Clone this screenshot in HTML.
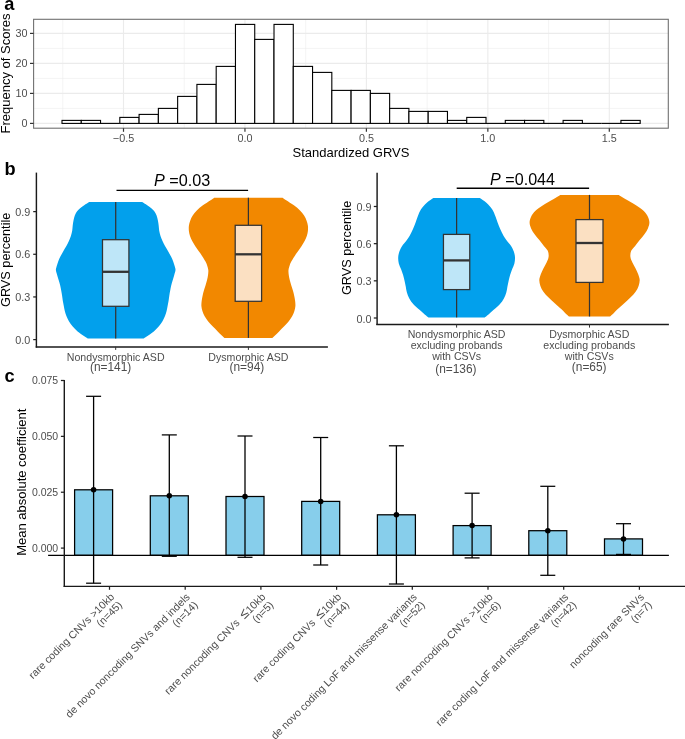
<!DOCTYPE html>
<html><head><meta charset="utf-8"><style>
html,body{margin:0;padding:0;background:#fff;}
svg{display:block;font-family:"Liberation Sans", sans-serif;will-change:transform;}
</style></head><body>
<svg width="685" height="739" viewBox="0 0 685 739">
<rect x="0" y="0" width="685" height="739" fill="#fff"/>
<line x1="62.77499999999998" y1="19.3" x2="62.77499999999998" y2="128.2" stroke="#ebebeb" stroke-width="0.55"/>
<line x1="184.225" y1="19.3" x2="184.225" y2="128.2" stroke="#ebebeb" stroke-width="0.55"/>
<line x1="305.675" y1="19.3" x2="305.675" y2="128.2" stroke="#ebebeb" stroke-width="0.55"/>
<line x1="427.125" y1="19.3" x2="427.125" y2="128.2" stroke="#ebebeb" stroke-width="0.55"/>
<line x1="548.575" y1="19.3" x2="548.575" y2="128.2" stroke="#ebebeb" stroke-width="0.55"/>
<line x1="33.6" y1="108.4" x2="668.3" y2="108.4" stroke="#ebebeb" stroke-width="0.55"/>
<line x1="33.6" y1="78.4" x2="668.3" y2="78.4" stroke="#ebebeb" stroke-width="0.55"/>
<line x1="33.6" y1="48.400000000000006" x2="668.3" y2="48.400000000000006" stroke="#ebebeb" stroke-width="0.55"/>
<line x1="123.49999999999999" y1="19.3" x2="123.49999999999999" y2="128.2" stroke="#ebebeb" stroke-width="1.1"/>
<line x1="244.95" y1="19.3" x2="244.95" y2="128.2" stroke="#ebebeb" stroke-width="1.1"/>
<line x1="366.4" y1="19.3" x2="366.4" y2="128.2" stroke="#ebebeb" stroke-width="1.1"/>
<line x1="487.85" y1="19.3" x2="487.85" y2="128.2" stroke="#ebebeb" stroke-width="1.1"/>
<line x1="609.3" y1="19.3" x2="609.3" y2="128.2" stroke="#ebebeb" stroke-width="1.1"/>
<line x1="33.6" y1="123.4" x2="668.3" y2="123.4" stroke="#ebebeb" stroke-width="1.1"/>
<line x1="33.6" y1="93.4" x2="668.3" y2="93.4" stroke="#ebebeb" stroke-width="1.1"/>
<line x1="33.6" y1="63.400000000000006" x2="668.3" y2="63.400000000000006" stroke="#ebebeb" stroke-width="1.1"/>
<line x1="33.6" y1="33.400000000000006" x2="668.3" y2="33.400000000000006" stroke="#ebebeb" stroke-width="1.1"/>
<rect x="62.00" y="120.40" width="19.27" height="3.00" fill="#fff" stroke="#000" stroke-width="1.1"/>
<rect x="81.27" y="120.40" width="19.27" height="3.00" fill="#fff" stroke="#000" stroke-width="1.1"/>
<line x1="100.55" y1="123.4" x2="119.82" y2="123.4" stroke="#000" stroke-width="1.1"/>
<rect x="119.82" y="117.40" width="19.27" height="6.00" fill="#fff" stroke="#000" stroke-width="1.1"/>
<rect x="139.09" y="114.40" width="19.27" height="9.00" fill="#fff" stroke="#000" stroke-width="1.1"/>
<rect x="158.37" y="108.40" width="19.27" height="15.00" fill="#fff" stroke="#000" stroke-width="1.1"/>
<rect x="177.64" y="96.40" width="19.27" height="27.00" fill="#fff" stroke="#000" stroke-width="1.1"/>
<rect x="196.91" y="84.40" width="19.27" height="39.00" fill="#fff" stroke="#000" stroke-width="1.1"/>
<rect x="216.19" y="66.40" width="19.27" height="57.00" fill="#fff" stroke="#000" stroke-width="1.1"/>
<rect x="235.46" y="24.40" width="19.27" height="99.00" fill="#fff" stroke="#000" stroke-width="1.1"/>
<rect x="254.73" y="39.40" width="19.27" height="84.00" fill="#fff" stroke="#000" stroke-width="1.1"/>
<rect x="274.01" y="24.40" width="19.27" height="99.00" fill="#fff" stroke="#000" stroke-width="1.1"/>
<rect x="293.28" y="66.40" width="19.27" height="57.00" fill="#fff" stroke="#000" stroke-width="1.1"/>
<rect x="312.55" y="72.40" width="19.27" height="51.00" fill="#fff" stroke="#000" stroke-width="1.1"/>
<rect x="331.83" y="90.40" width="19.27" height="33.00" fill="#fff" stroke="#000" stroke-width="1.1"/>
<rect x="351.10" y="90.40" width="19.27" height="33.00" fill="#fff" stroke="#000" stroke-width="1.1"/>
<rect x="370.37" y="93.40" width="19.27" height="30.00" fill="#fff" stroke="#000" stroke-width="1.1"/>
<rect x="389.65" y="108.40" width="19.27" height="15.00" fill="#fff" stroke="#000" stroke-width="1.1"/>
<rect x="408.92" y="111.40" width="19.27" height="12.00" fill="#fff" stroke="#000" stroke-width="1.1"/>
<rect x="428.19" y="111.40" width="19.27" height="12.00" fill="#fff" stroke="#000" stroke-width="1.1"/>
<rect x="447.47" y="120.40" width="19.27" height="3.00" fill="#fff" stroke="#000" stroke-width="1.1"/>
<rect x="466.74" y="117.40" width="19.27" height="6.00" fill="#fff" stroke="#000" stroke-width="1.1"/>
<line x1="486.01" y1="123.4" x2="505.29" y2="123.4" stroke="#000" stroke-width="1.1"/>
<rect x="505.29" y="120.40" width="19.27" height="3.00" fill="#fff" stroke="#000" stroke-width="1.1"/>
<rect x="524.56" y="120.40" width="19.27" height="3.00" fill="#fff" stroke="#000" stroke-width="1.1"/>
<line x1="543.83" y1="123.4" x2="563.11" y2="123.4" stroke="#000" stroke-width="1.1"/>
<rect x="563.11" y="120.40" width="19.27" height="3.00" fill="#fff" stroke="#000" stroke-width="1.1"/>
<line x1="582.38" y1="123.4" x2="601.65" y2="123.4" stroke="#000" stroke-width="1.1"/>
<line x1="601.65" y1="123.4" x2="620.93" y2="123.4" stroke="#000" stroke-width="1.1"/>
<rect x="620.93" y="120.40" width="19.27" height="3.00" fill="#fff" stroke="#000" stroke-width="1.1"/>
<rect x="33.6" y="19.3" width="634.6999999999999" height="108.89999999999999" fill="none" stroke="#707070" stroke-width="1.1"/>
<line x1="30.0" y1="123.4" x2="33.6" y2="123.4" stroke="#333" stroke-width="1.2"/>
<text x="27.6" y="127.30000000000001" font-size="10.8" fill="#4d4d4d" text-anchor="end">0</text>
<line x1="30.0" y1="93.4" x2="33.6" y2="93.4" stroke="#333" stroke-width="1.2"/>
<text x="27.6" y="97.30000000000001" font-size="10.8" fill="#4d4d4d" text-anchor="end">10</text>
<line x1="30.0" y1="63.400000000000006" x2="33.6" y2="63.400000000000006" stroke="#333" stroke-width="1.2"/>
<text x="27.6" y="67.30000000000001" font-size="10.8" fill="#4d4d4d" text-anchor="end">20</text>
<line x1="30.0" y1="33.400000000000006" x2="33.6" y2="33.400000000000006" stroke="#333" stroke-width="1.2"/>
<text x="27.6" y="37.300000000000004" font-size="10.8" fill="#4d4d4d" text-anchor="end">30</text>
<line x1="123.49999999999999" y1="128.2" x2="123.49999999999999" y2="131.79999999999998" stroke="#333" stroke-width="1.2"/>
<text x="123.49999999999999" y="142.0" font-size="10.8" fill="#4d4d4d" text-anchor="middle">−0.5</text>
<line x1="244.95" y1="128.2" x2="244.95" y2="131.79999999999998" stroke="#333" stroke-width="1.2"/>
<text x="244.95" y="142.0" font-size="10.8" fill="#4d4d4d" text-anchor="middle">0.0</text>
<line x1="366.4" y1="128.2" x2="366.4" y2="131.79999999999998" stroke="#333" stroke-width="1.2"/>
<text x="366.4" y="142.0" font-size="10.8" fill="#4d4d4d" text-anchor="middle">0.5</text>
<line x1="487.85" y1="128.2" x2="487.85" y2="131.79999999999998" stroke="#333" stroke-width="1.2"/>
<text x="487.85" y="142.0" font-size="10.8" fill="#4d4d4d" text-anchor="middle">1.0</text>
<line x1="609.3" y1="128.2" x2="609.3" y2="131.79999999999998" stroke="#333" stroke-width="1.2"/>
<text x="609.3" y="142.0" font-size="10.8" fill="#4d4d4d" text-anchor="middle">1.5</text>
<text x="351" y="156.7" font-size="13" fill="#000" text-anchor="middle">Standardized GRVS</text>
<text x="9.5" y="73.5" font-size="13" fill="#000" text-anchor="middle" transform="rotate(-90 9.5 73.5)">Frequency of Scores</text>
<text x="4.3" y="9.5" font-size="18.2" fill="#000" text-anchor="start" font-weight="bold">a</text>
<path d="M89.30,202.00 C88.45,202.53 85.73,204.15 84.20,205.20 C82.67,206.25 81.28,207.28 80.10,208.30 C78.92,209.32 77.98,210.12 77.10,211.30 C76.22,212.48 75.40,213.87 74.80,215.40 C74.20,216.93 73.85,218.78 73.50,220.50 C73.15,222.22 72.92,223.98 72.70,225.70 C72.48,227.42 72.50,229.10 72.20,230.80 C71.90,232.50 71.45,234.20 70.90,235.90 C70.35,237.60 69.65,239.30 68.90,241.00 C68.15,242.70 67.33,244.40 66.40,246.10 C65.47,247.80 64.28,249.50 63.30,251.20 C62.32,252.90 61.35,254.60 60.50,256.30 C59.65,258.00 58.85,259.70 58.20,261.40 C57.55,263.10 56.98,265.05 56.60,266.50 C56.22,267.95 55.80,268.65 55.90,270.10 C56.00,271.55 56.73,273.50 57.20,275.20 C57.67,276.90 58.20,278.60 58.70,280.30 C59.20,282.00 59.78,283.70 60.20,285.40 C60.62,287.10 60.88,288.78 61.20,290.50 C61.52,292.22 61.83,293.98 62.10,295.70 C62.37,297.42 62.52,299.10 62.80,300.80 C63.08,302.50 63.47,304.20 63.80,305.90 C64.13,307.60 64.37,309.30 64.80,311.00 C65.23,312.70 65.72,314.40 66.40,316.10 C67.08,317.80 67.88,319.50 68.90,321.20 C69.92,322.90 71.05,324.60 72.50,326.30 C73.95,328.00 75.57,329.70 77.60,331.40 C79.63,333.10 83.00,335.30 84.70,336.50 C86.40,337.70 87.28,338.25 87.80,338.60 L143.60,338.60 C144.12,338.25 145.00,337.70 146.70,336.50 C148.40,335.30 151.77,333.10 153.80,331.40 C155.83,329.70 157.45,328.00 158.90,326.30 C160.35,324.60 161.48,322.90 162.50,321.20 C163.52,319.50 164.32,317.80 165.00,316.10 C165.68,314.40 166.17,312.70 166.60,311.00 C167.03,309.30 167.27,307.60 167.60,305.90 C167.93,304.20 168.32,302.50 168.60,300.80 C168.88,299.10 169.03,297.42 169.30,295.70 C169.57,293.98 169.88,292.22 170.20,290.50 C170.52,288.78 170.78,287.10 171.20,285.40 C171.62,283.70 172.20,282.00 172.70,280.30 C173.20,278.60 173.73,276.90 174.20,275.20 C174.67,273.50 175.40,271.55 175.50,270.10 C175.60,268.65 175.18,267.95 174.80,266.50 C174.42,265.05 173.85,263.10 173.20,261.40 C172.55,259.70 171.75,258.00 170.90,256.30 C170.05,254.60 169.08,252.90 168.10,251.20 C167.12,249.50 165.93,247.80 165.00,246.10 C164.07,244.40 163.25,242.70 162.50,241.00 C161.75,239.30 161.05,237.60 160.50,235.90 C159.95,234.20 159.50,232.50 159.20,230.80 C158.90,229.10 158.92,227.42 158.70,225.70 C158.48,223.98 158.25,222.22 157.90,220.50 C157.55,218.78 157.20,216.93 156.60,215.40 C156.00,213.87 155.18,212.48 154.30,211.30 C153.42,210.12 152.48,209.32 151.30,208.30 C150.12,207.28 148.73,206.25 147.20,205.20 C145.67,204.15 142.95,202.53 142.10,202.00 Z" fill="#02a0ec"/>
<path d="M214.20,197.70 C213.60,198.12 212.48,198.93 210.60,200.20 C208.72,201.47 205.20,203.60 202.90,205.30 C200.60,207.00 198.50,208.70 196.80,210.40 C195.10,212.10 193.80,213.78 192.70,215.50 C191.60,217.22 190.83,218.98 190.20,220.70 C189.57,222.42 189.12,224.10 188.90,225.80 C188.68,227.50 188.72,229.20 188.90,230.90 C189.08,232.60 189.45,234.30 190.00,236.00 C190.55,237.70 191.32,239.40 192.20,241.10 C193.08,242.80 194.20,244.50 195.30,246.20 C196.40,247.90 197.62,249.60 198.80,251.30 C199.98,253.00 201.28,254.70 202.40,256.40 C203.52,258.10 204.73,260.07 205.50,261.50 C206.27,262.93 206.53,263.57 207.00,265.00 C207.47,266.43 208.13,268.40 208.30,270.10 C208.47,271.80 208.22,273.50 208.00,275.20 C207.78,276.90 207.42,278.60 207.00,280.30 C206.58,282.00 206.02,283.70 205.50,285.40 C204.98,287.10 204.38,288.78 203.90,290.50 C203.42,292.22 202.97,293.98 202.60,295.70 C202.23,297.42 201.90,299.10 201.70,300.80 C201.50,302.50 201.28,304.20 201.40,305.90 C201.52,307.60 201.88,309.30 202.40,311.00 C202.92,312.70 203.57,314.40 204.50,316.10 C205.43,317.80 206.65,319.50 208.00,321.20 C209.35,322.90 210.98,324.60 212.60,326.30 C214.22,328.00 216.17,329.87 217.70,331.40 C219.23,332.93 220.68,334.42 221.80,335.50 C222.92,336.58 223.97,337.50 224.40,337.90 L272.40,337.90 C272.83,337.50 273.88,336.58 275.00,335.50 C276.12,334.42 277.57,332.93 279.10,331.40 C280.63,329.87 282.58,328.00 284.20,326.30 C285.82,324.60 287.45,322.90 288.80,321.20 C290.15,319.50 291.37,317.80 292.30,316.10 C293.23,314.40 293.88,312.70 294.40,311.00 C294.92,309.30 295.28,307.60 295.40,305.90 C295.52,304.20 295.30,302.50 295.10,300.80 C294.90,299.10 294.57,297.42 294.20,295.70 C293.83,293.98 293.38,292.22 292.90,290.50 C292.42,288.78 291.82,287.10 291.30,285.40 C290.78,283.70 290.22,282.00 289.80,280.30 C289.38,278.60 289.02,276.90 288.80,275.20 C288.58,273.50 288.33,271.80 288.50,270.10 C288.67,268.40 289.33,266.43 289.80,265.00 C290.27,263.57 290.53,262.93 291.30,261.50 C292.07,260.07 293.28,258.10 294.40,256.40 C295.52,254.70 296.82,253.00 298.00,251.30 C299.18,249.60 300.40,247.90 301.50,246.20 C302.60,244.50 303.72,242.80 304.60,241.10 C305.48,239.40 306.25,237.70 306.80,236.00 C307.35,234.30 307.72,232.60 307.90,230.90 C308.08,229.20 308.12,227.50 307.90,225.80 C307.68,224.10 307.23,222.42 306.60,220.70 C305.97,218.98 305.20,217.22 304.10,215.50 C303.00,213.78 301.70,212.10 300.00,210.40 C298.30,208.70 296.20,207.00 293.90,205.30 C291.60,203.60 288.08,201.47 286.20,200.20 C284.32,198.93 283.20,198.12 282.60,197.70 Z" fill="#f28800"/>
<line x1="115.7" y1="202.0" x2="115.7" y2="239.7" stroke="#333333" stroke-width="1.25"/>
<line x1="115.7" y1="306.3" x2="115.7" y2="338.6" stroke="#333333" stroke-width="1.25"/>
<rect x="102.5" y="239.7" width="26.4" height="66.60000000000002" fill="#bee6f8" stroke="#333333" stroke-width="1.25"/>
<line x1="102.5" y1="271.8" x2="128.9" y2="271.8" stroke="#333333" stroke-width="2.3"/>
<line x1="248.4" y1="197.7" x2="248.4" y2="225.3" stroke="#333333" stroke-width="1.25"/>
<line x1="248.4" y1="301.3" x2="248.4" y2="337.9" stroke="#333333" stroke-width="1.25"/>
<rect x="235.20000000000002" y="225.3" width="26.4" height="76.0" fill="#fbe0c2" stroke="#333333" stroke-width="1.25"/>
<line x1="235.20000000000002" y1="254.3" x2="261.6" y2="254.3" stroke="#333333" stroke-width="2.3"/>
<line x1="36.4" y1="172.6" x2="36.4" y2="347.6" stroke="#1a1a1a" stroke-width="1.45"/>
<line x1="35.72" y1="346.9" x2="327.9" y2="346.9" stroke="#1a1a1a" stroke-width="1.5"/>
<line x1="33.2" y1="339.6" x2="36.4" y2="339.6" stroke="#222" stroke-width="1.25"/>
<text x="30.3" y="343.8" font-size="10.8" fill="#4d4d4d" text-anchor="end">0.0</text>
<line x1="33.2" y1="296.94000000000005" x2="36.4" y2="296.94000000000005" stroke="#222" stroke-width="1.25"/>
<text x="30.3" y="301.14000000000004" font-size="10.8" fill="#4d4d4d" text-anchor="end">0.3</text>
<line x1="33.2" y1="254.28000000000003" x2="36.4" y2="254.28000000000003" stroke="#222" stroke-width="1.25"/>
<text x="30.3" y="258.48" font-size="10.8" fill="#4d4d4d" text-anchor="end">0.6</text>
<line x1="33.2" y1="211.62000000000003" x2="36.4" y2="211.62000000000003" stroke="#222" stroke-width="1.25"/>
<text x="30.3" y="215.82000000000002" font-size="10.8" fill="#4d4d4d" text-anchor="end">0.9</text>
<line x1="115.7" y1="346.7" x2="115.7" y2="349.9" stroke="#333" stroke-width="1.0"/>
<line x1="248.4" y1="346.7" x2="248.4" y2="349.9" stroke="#333" stroke-width="1.0"/>
<text x="115.7" y="360.7" font-size="10.6" fill="#4d4d4d" text-anchor="middle">Nondysmorphic ASD</text>
<text x="110.6" y="371.4" font-size="11.9" fill="#4d4d4d" text-anchor="middle">(n=141)</text>
<text x="248.4" y="360.7" font-size="10.6" fill="#4d4d4d" text-anchor="middle">Dysmorphic ASD</text>
<text x="246.9" y="371.4" font-size="11.9" fill="#4d4d4d" text-anchor="middle">(n=94)</text>
<text x="9.6" y="259.8" font-size="12.7" fill="#000" text-anchor="middle" transform="rotate(-90 9.6 259.8)">GRVS percentile</text>
<line x1="116.5" y1="190.4" x2="248.1" y2="190.4" stroke="#000" stroke-width="1.35"/>
<text x="153.9" y="186.1" font-size="16.2" fill="#000"><tspan font-style="italic">P</tspan> =0.03</text>
<text x="4.4" y="174.8" font-size="18.2" fill="#000" text-anchor="start" font-weight="bold">b</text>
<path d="M433.40,198.00 C432.30,198.80 428.88,200.90 426.80,202.80 C424.72,204.70 422.38,207.20 420.90,209.40 C419.42,211.60 418.78,213.80 417.90,216.00 C417.02,218.20 416.42,220.42 415.60,222.60 C414.78,224.78 413.98,226.92 413.00,229.10 C412.02,231.28 411.02,233.50 409.70,235.70 C408.38,237.90 406.33,240.62 405.10,242.30 C403.87,243.98 403.27,244.23 402.30,245.80 C401.33,247.37 399.98,249.75 399.30,251.70 C398.62,253.65 398.28,255.55 398.20,257.50 C398.12,259.45 398.32,261.45 398.80,263.40 C399.28,265.35 400.38,267.27 401.10,269.20 C401.82,271.13 402.52,273.05 403.10,275.00 C403.68,276.95 404.15,278.95 404.60,280.90 C405.05,282.85 405.42,284.75 405.80,286.70 C406.18,288.65 406.32,290.65 406.90,292.60 C407.48,294.55 408.22,296.47 409.30,298.40 C410.38,300.33 411.65,302.25 413.40,304.20 C415.15,306.15 417.87,308.35 419.80,310.10 C421.73,311.85 423.55,313.48 425.00,314.70 C426.45,315.92 427.92,316.95 428.50,317.40 L484.70,317.40 C485.28,316.95 486.75,315.92 488.20,314.70 C489.65,313.48 491.47,311.85 493.40,310.10 C495.33,308.35 498.05,306.15 499.80,304.20 C501.55,302.25 502.82,300.33 503.90,298.40 C504.98,296.47 505.72,294.55 506.30,292.60 C506.88,290.65 507.02,288.65 507.40,286.70 C507.78,284.75 508.15,282.85 508.60,280.90 C509.05,278.95 509.52,276.95 510.10,275.00 C510.68,273.05 511.38,271.13 512.10,269.20 C512.82,267.27 513.92,265.35 514.40,263.40 C514.88,261.45 515.08,259.45 515.00,257.50 C514.92,255.55 514.58,253.65 513.90,251.70 C513.22,249.75 511.87,247.37 510.90,245.80 C509.93,244.23 509.33,243.98 508.10,242.30 C506.87,240.62 504.82,237.90 503.50,235.70 C502.18,233.50 501.18,231.28 500.20,229.10 C499.22,226.92 498.42,224.78 497.60,222.60 C496.78,220.42 496.18,218.20 495.30,216.00 C494.42,213.80 493.78,211.60 492.30,209.40 C490.82,207.20 488.48,204.70 486.40,202.80 C484.32,200.90 480.90,198.80 479.80,198.00 Z" fill="#02a0ec"/>
<path d="M560.30,194.90 C559.13,195.62 556.12,197.52 553.30,199.20 C550.48,200.88 546.42,203.05 543.40,205.00 C540.38,206.95 537.25,208.95 535.20,210.90 C533.15,212.85 532.03,214.75 531.10,216.70 C530.17,218.65 529.60,220.65 529.60,222.60 C529.60,224.55 530.27,226.47 531.10,228.40 C531.93,230.33 533.23,232.25 534.60,234.20 C535.97,236.15 537.75,238.15 539.30,240.10 C540.85,242.05 542.48,244.12 543.90,245.90 C545.32,247.68 547.02,249.00 547.80,250.80 C548.58,252.60 548.80,254.75 548.60,256.70 C548.40,258.65 547.47,260.55 546.60,262.50 C545.73,264.45 544.37,266.45 543.40,268.40 C542.43,270.35 541.48,272.27 540.80,274.20 C540.12,276.13 539.37,278.05 539.30,280.00 C539.23,281.95 539.72,283.95 540.40,285.90 C541.08,287.85 542.03,289.75 543.40,291.70 C544.77,293.65 546.67,295.65 548.60,297.60 C550.53,299.55 552.85,301.47 555.00,303.40 C557.15,305.33 559.65,307.45 561.50,309.20 C563.35,310.95 564.83,312.68 566.10,313.90 C567.37,315.12 568.60,316.07 569.10,316.50 L609.90,316.50 C610.40,316.07 611.63,315.12 612.90,313.90 C614.17,312.68 615.65,310.95 617.50,309.20 C619.35,307.45 621.85,305.33 624.00,303.40 C626.15,301.47 628.47,299.55 630.40,297.60 C632.33,295.65 634.23,293.65 635.60,291.70 C636.97,289.75 637.92,287.85 638.60,285.90 C639.28,283.95 639.77,281.95 639.70,280.00 C639.63,278.05 638.88,276.13 638.20,274.20 C637.52,272.27 636.57,270.35 635.60,268.40 C634.63,266.45 633.27,264.45 632.40,262.50 C631.53,260.55 630.60,258.65 630.40,256.70 C630.20,254.75 630.42,252.60 631.20,250.80 C631.98,249.00 633.68,247.68 635.10,245.90 C636.52,244.12 638.15,242.05 639.70,240.10 C641.25,238.15 643.03,236.15 644.40,234.20 C645.77,232.25 647.07,230.33 647.90,228.40 C648.73,226.47 649.40,224.55 649.40,222.60 C649.40,220.65 648.83,218.65 647.90,216.70 C646.97,214.75 645.85,212.85 643.80,210.90 C641.75,208.95 638.62,206.95 635.60,205.00 C632.58,203.05 628.52,200.88 625.70,199.20 C622.88,197.52 619.87,195.62 618.70,194.90 Z" fill="#f28800"/>
<line x1="456.6" y1="198.0" x2="456.6" y2="234.4" stroke="#333333" stroke-width="1.25"/>
<line x1="456.6" y1="289.6" x2="456.6" y2="317.4" stroke="#333333" stroke-width="1.25"/>
<rect x="443.45000000000005" y="234.4" width="26.3" height="55.20000000000002" fill="#bee6f8" stroke="#333333" stroke-width="1.25"/>
<line x1="443.45000000000005" y1="260.4" x2="469.75" y2="260.4" stroke="#333333" stroke-width="2.3"/>
<line x1="589.5" y1="194.9" x2="589.5" y2="219.6" stroke="#333333" stroke-width="1.25"/>
<line x1="589.5" y1="282.4" x2="589.5" y2="316.5" stroke="#333333" stroke-width="1.25"/>
<rect x="576.0" y="219.6" width="27.0" height="62.79999999999998" fill="#fbe0c2" stroke="#333333" stroke-width="1.25"/>
<line x1="576.0" y1="243.0" x2="603.0" y2="243.0" stroke="#333333" stroke-width="2.3"/>
<line x1="377.1" y1="172.7" x2="377.1" y2="325.1" stroke="#1a1a1a" stroke-width="1.45"/>
<line x1="376.32" y1="324.4" x2="668.9" y2="324.4" stroke="#1a1a1a" stroke-width="1.5"/>
<line x1="373.8" y1="318.0" x2="377.0" y2="318.0" stroke="#222" stroke-width="1.25"/>
<text x="371.5" y="322.6" font-size="10.8" fill="#4d4d4d" text-anchor="end">0.0</text>
<line x1="373.8" y1="280.83" x2="377.0" y2="280.83" stroke="#222" stroke-width="1.25"/>
<text x="371.5" y="285.43" font-size="10.8" fill="#4d4d4d" text-anchor="end">0.3</text>
<line x1="373.8" y1="243.66" x2="377.0" y2="243.66" stroke="#222" stroke-width="1.25"/>
<text x="371.5" y="248.26" font-size="10.8" fill="#4d4d4d" text-anchor="end">0.6</text>
<line x1="373.8" y1="206.49" x2="377.0" y2="206.49" stroke="#222" stroke-width="1.25"/>
<text x="371.5" y="211.09" font-size="10.8" fill="#4d4d4d" text-anchor="end">0.9</text>
<line x1="456.6" y1="324.4" x2="456.6" y2="327.6" stroke="#333" stroke-width="1.0"/>
<line x1="589.5" y1="324.4" x2="589.5" y2="327.6" stroke="#333" stroke-width="1.0"/>
<text x="456.6" y="338.0" font-size="10.6" fill="#4d4d4d" text-anchor="middle">Nondysmorphic ASD</text>
<text x="456.6" y="349.0" font-size="10.6" fill="#4d4d4d" text-anchor="middle">excluding probands</text>
<text x="456.6" y="360.2" font-size="10.6" fill="#4d4d4d" text-anchor="middle">with CSVs</text>
<text x="455.9" y="372.6" font-size="11.9" fill="#4d4d4d" text-anchor="middle">(n=136)</text>
<text x="589.3" y="338.0" font-size="10.6" fill="#4d4d4d" text-anchor="middle">Dysmorphic ASD</text>
<text x="589.3" y="349.0" font-size="10.6" fill="#4d4d4d" text-anchor="middle">excluding probands</text>
<text x="589.3" y="360.2" font-size="10.6" fill="#4d4d4d" text-anchor="middle">with CSVs</text>
<text x="589.2" y="371.2" font-size="11.9" fill="#4d4d4d" text-anchor="middle">(n=65)</text>
<text x="350.8" y="247.9" font-size="12.7" fill="#000" text-anchor="middle" transform="rotate(-90 350.8 247.9)">GRVS percentile</text>
<line x1="456.7" y1="188.2" x2="589.1" y2="188.2" stroke="#000" stroke-width="1.35"/>
<text x="490.1" y="185.3" font-size="16.1" fill="#000"><tspan font-style="italic">P</tspan> =0.044</text>
<rect x="74.6" y="489.8" width="38" height="65.49999999999994" fill="#87ceeb" stroke="#000" stroke-width="1.25"/>
<rect x="150.3" y="495.8" width="38" height="59.49999999999994" fill="#87ceeb" stroke="#000" stroke-width="1.25"/>
<rect x="226.0" y="496.5" width="38" height="58.799999999999955" fill="#87ceeb" stroke="#000" stroke-width="1.25"/>
<rect x="301.7" y="501.4" width="38" height="53.89999999999998" fill="#87ceeb" stroke="#000" stroke-width="1.25"/>
<rect x="377.4" y="514.8" width="38" height="40.5" fill="#87ceeb" stroke="#000" stroke-width="1.25"/>
<rect x="453.1" y="525.6" width="38" height="29.699999999999932" fill="#87ceeb" stroke="#000" stroke-width="1.25"/>
<rect x="528.8" y="530.7" width="38" height="24.59999999999991" fill="#87ceeb" stroke="#000" stroke-width="1.25"/>
<rect x="604.5" y="538.9" width="38" height="16.399999999999977" fill="#87ceeb" stroke="#000" stroke-width="1.25"/>
<line x1="48.1" y1="555.3" x2="668.9" y2="555.3" stroke="#000" stroke-width="1.2"/>
<line x1="93.6" y1="396.3" x2="93.6" y2="583.2" stroke="#000" stroke-width="1.3"/>
<line x1="86.1" y1="396.3" x2="101.1" y2="396.3" stroke="#000" stroke-width="1.25"/>
<line x1="86.1" y1="583.2" x2="101.1" y2="583.2" stroke="#000" stroke-width="1.25"/>
<circle cx="93.6" cy="489.8" r="2.75" fill="#000"/>
<line x1="169.3" y1="434.9" x2="169.3" y2="556.3" stroke="#000" stroke-width="1.3"/>
<line x1="161.8" y1="434.9" x2="176.8" y2="434.9" stroke="#000" stroke-width="1.25"/>
<line x1="161.8" y1="556.3" x2="176.8" y2="556.3" stroke="#000" stroke-width="1.25"/>
<circle cx="169.3" cy="495.8" r="2.75" fill="#000"/>
<line x1="245.0" y1="436.0" x2="245.0" y2="557.3" stroke="#000" stroke-width="1.3"/>
<line x1="237.5" y1="436.0" x2="252.5" y2="436.0" stroke="#000" stroke-width="1.25"/>
<line x1="237.5" y1="557.3" x2="252.5" y2="557.3" stroke="#000" stroke-width="1.25"/>
<circle cx="245.0" cy="496.5" r="2.75" fill="#000"/>
<line x1="320.7" y1="437.5" x2="320.7" y2="565.0" stroke="#000" stroke-width="1.3"/>
<line x1="313.2" y1="437.5" x2="328.2" y2="437.5" stroke="#000" stroke-width="1.25"/>
<line x1="313.2" y1="565.0" x2="328.2" y2="565.0" stroke="#000" stroke-width="1.25"/>
<circle cx="320.7" cy="501.4" r="2.75" fill="#000"/>
<line x1="396.4" y1="445.8" x2="396.4" y2="584.0" stroke="#000" stroke-width="1.3"/>
<line x1="388.9" y1="445.8" x2="403.9" y2="445.8" stroke="#000" stroke-width="1.25"/>
<line x1="388.9" y1="584.0" x2="403.9" y2="584.0" stroke="#000" stroke-width="1.25"/>
<circle cx="396.4" cy="514.8" r="2.75" fill="#000"/>
<line x1="472.1" y1="493.2" x2="472.1" y2="557.9" stroke="#000" stroke-width="1.3"/>
<line x1="464.6" y1="493.2" x2="479.6" y2="493.2" stroke="#000" stroke-width="1.25"/>
<line x1="464.6" y1="557.9" x2="479.6" y2="557.9" stroke="#000" stroke-width="1.25"/>
<circle cx="472.1" cy="525.6" r="2.75" fill="#000"/>
<line x1="547.8" y1="486.3" x2="547.8" y2="575.3" stroke="#000" stroke-width="1.3"/>
<line x1="540.3" y1="486.3" x2="555.3" y2="486.3" stroke="#000" stroke-width="1.25"/>
<line x1="540.3" y1="575.3" x2="555.3" y2="575.3" stroke="#000" stroke-width="1.25"/>
<circle cx="547.8" cy="530.7" r="2.75" fill="#000"/>
<line x1="623.5" y1="523.7" x2="623.5" y2="554.4" stroke="#000" stroke-width="1.3"/>
<line x1="616.0" y1="523.7" x2="631.0" y2="523.7" stroke="#000" stroke-width="1.25"/>
<line x1="616.0" y1="554.4" x2="631.0" y2="554.4" stroke="#000" stroke-width="1.25"/>
<circle cx="623.5" cy="538.9" r="2.75" fill="#000"/>
<line x1="64.3" y1="379.9" x2="64.3" y2="587.1" stroke="#1a1a1a" stroke-width="1.4"/>
<line x1="63.6" y1="586.4" x2="685" y2="586.4" stroke="#1a1a1a" stroke-width="1.4"/>
<line x1="60.9" y1="548.1" x2="64.3" y2="548.1" stroke="#222" stroke-width="1.25"/>
<text x="58.2" y="551.9" font-size="10.5" fill="#4d4d4d" text-anchor="end">0.000</text>
<line x1="60.9" y1="492.23" x2="64.3" y2="492.23" stroke="#222" stroke-width="1.25"/>
<text x="58.2" y="496.03000000000003" font-size="10.5" fill="#4d4d4d" text-anchor="end">0.025</text>
<line x1="60.9" y1="436.36" x2="64.3" y2="436.36" stroke="#222" stroke-width="1.25"/>
<text x="58.2" y="440.16" font-size="10.5" fill="#4d4d4d" text-anchor="end">0.050</text>
<line x1="60.9" y1="380.49" x2="64.3" y2="380.49" stroke="#222" stroke-width="1.25"/>
<text x="58.2" y="384.29" font-size="10.5" fill="#4d4d4d" text-anchor="end">0.075</text>
<text x="25.9" y="482.2" font-size="13" fill="#000" text-anchor="middle" transform="rotate(-90 25.9 482.2)">Mean absolute coefficient</text>
<text x="4.6" y="382.4" font-size="18.2" fill="#000" text-anchor="start" font-weight="bold">c</text>
<line x1="109.5" y1="586.4" x2="109.5" y2="589.8" stroke="#222" stroke-width="1.25"/>
<g transform="translate(114.8 597.7) rotate(-45)"><text x="0" y="0" font-size="10.6" fill="#4d4d4d" text-anchor="end" style="white-space:pre">rare coding CNVs &gt;10kb</text><text x="0" y="11.2" font-size="10.6" fill="#4d4d4d" text-anchor="end">(n=45)</text></g>
<line x1="185.2" y1="586.4" x2="185.2" y2="589.8" stroke="#222" stroke-width="1.25"/>
<g transform="translate(190.5 597.7) rotate(-45)"><text x="0" y="0" font-size="10.6" fill="#4d4d4d" text-anchor="end" style="white-space:pre">de novo noncoding SNVs and indels</text><text x="0" y="11.2" font-size="10.6" fill="#4d4d4d" text-anchor="end">(n=14)</text></g>
<line x1="260.9" y1="586.4" x2="260.9" y2="589.8" stroke="#222" stroke-width="1.25"/>
<g transform="translate(266.2 597.7) rotate(-45)"><text x="0" y="0" font-size="10.6" fill="#4d4d4d" text-anchor="end" style="white-space:pre">rare noncoding CNVs  <tspan font-size="14">≤</tspan>10kb</text><text x="0" y="11.2" font-size="10.6" fill="#4d4d4d" text-anchor="end">(n=5)</text></g>
<line x1="336.6" y1="586.4" x2="336.6" y2="589.8" stroke="#222" stroke-width="1.25"/>
<g transform="translate(341.90000000000003 597.7) rotate(-45)"><text x="0" y="0" font-size="10.6" fill="#4d4d4d" text-anchor="end" style="white-space:pre">rare coding CNVs  <tspan font-size="14">≤</tspan>10kb</text><text x="0" y="11.2" font-size="10.6" fill="#4d4d4d" text-anchor="end">(n=44)</text></g>
<line x1="412.3" y1="586.4" x2="412.3" y2="589.8" stroke="#222" stroke-width="1.25"/>
<g transform="translate(417.6 597.7) rotate(-45)"><text x="0" y="0" font-size="10.6" fill="#4d4d4d" text-anchor="end" style="white-space:pre">de novo coding LoF and missense variants</text><text x="0" y="11.2" font-size="10.6" fill="#4d4d4d" text-anchor="end">(n=52)</text></g>
<line x1="488.0" y1="586.4" x2="488.0" y2="589.8" stroke="#222" stroke-width="1.25"/>
<g transform="translate(493.3 597.7) rotate(-45)"><text x="0" y="0" font-size="10.6" fill="#4d4d4d" text-anchor="end" style="white-space:pre">rare noncoding CNVs &gt;10kb</text><text x="0" y="11.2" font-size="10.6" fill="#4d4d4d" text-anchor="end">(n=6)</text></g>
<line x1="563.7" y1="586.4" x2="563.7" y2="589.8" stroke="#222" stroke-width="1.25"/>
<g transform="translate(569.0 597.7) rotate(-45)"><text x="0" y="0" font-size="10.6" fill="#4d4d4d" text-anchor="end" style="white-space:pre">rare coding LoF and missense variants</text><text x="0" y="11.2" font-size="10.6" fill="#4d4d4d" text-anchor="end">(n=42)</text></g>
<line x1="639.4" y1="586.4" x2="639.4" y2="589.8" stroke="#222" stroke-width="1.25"/>
<g transform="translate(644.6999999999999 597.7) rotate(-45)"><text x="0" y="0" font-size="10.6" fill="#4d4d4d" text-anchor="end" style="white-space:pre">noncoding rare SNVs</text><text x="0" y="11.2" font-size="10.6" fill="#4d4d4d" text-anchor="end">(n=7)</text></g>
</svg></body></html>
